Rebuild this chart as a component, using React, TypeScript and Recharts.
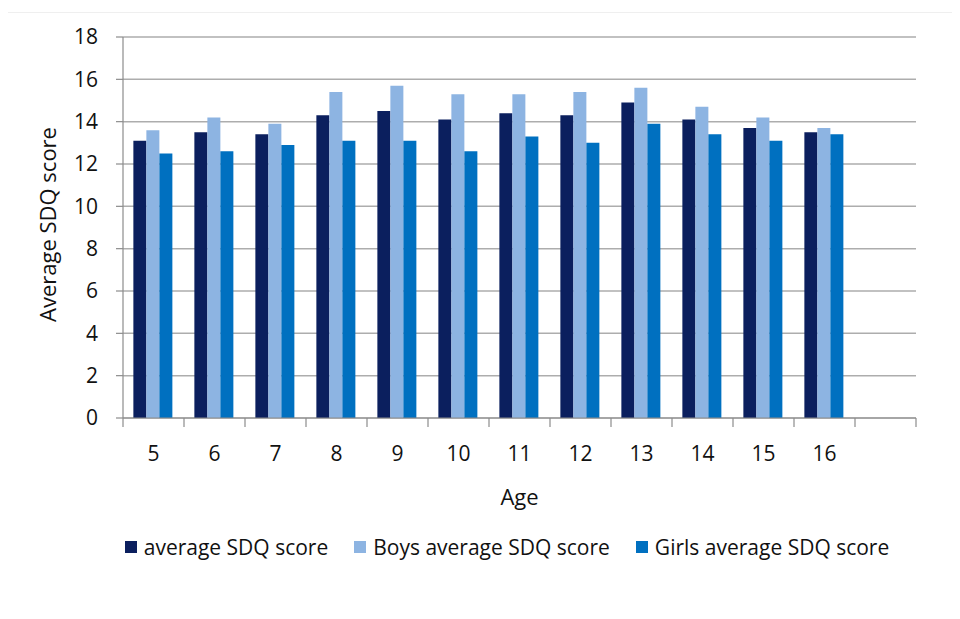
import React from 'react';
import { BarChart, Bar, XAxis, YAxis, CartesianGrid, Legend, Label } from 'recharts';

const ages = ['5', '6', '7', '8', '9', '10', '11', '12', '13', '14', '15', '16', ''];
const averageScore = [13.1, 13.5, 13.4, 14.3, 14.5, 14.1, 14.4, 14.3, 14.9, 14.1, 13.7, 13.5, null];
const boysScore = [13.6, 14.2, 13.9, 15.4, 15.7, 15.3, 15.3, 15.4, 15.6, 14.7, 14.2, 13.7, null];
const girlsScore = [12.5, 12.6, 12.9, 13.1, 13.1, 12.6, 13.3, 13.0, 13.9, 13.4, 13.1, 13.4, null];
const yTicks = [0, 2, 4, 6, 8, 10, 12, 14, 16, 18];

const seriesNames = ['average SDQ score', 'Boys average SDQ score', 'Girls average SDQ score'];
const colors = ['#0B1F5E', '#8DB4E2', '#0070C0'];

const data = ages.map((age, i) => ({
  age,
  avg: averageScore[i],
  boys: boysScore[i],
  girls: girlsScore[i],
}));

const W = 960;
const H = 619;
const LEFT = 123;
const RIGHT_MARGIN = 44;
const BAND = (W - LEFT - RIGHT_MARGIN) / ages.length;
const FONT = '"Open Sans", sans-serif';
const TEXT = '#111111';
const AXIS = '#8C8C8C';

const XTick = (props: any) => {
  const { x, y, payload, index } = props;
  const half = BAND / 2;
  return (
    <g>
      <line x1={x - half} x2={x - half} y1={y} y2={y + 9} stroke={AXIS} strokeWidth={1.2} />
      {index === ages.length - 1 && (
        <line x1={x + half} x2={x + half} y1={y} y2={y + 9} stroke={AXIS} strokeWidth={1.2} />
      )}
      <text x={x} y={y + 35} textAnchor="middle" dominantBaseline="central" fontFamily={FONT} fontSize={21} fill={TEXT}>
        {payload.value}
      </text>
    </g>
  );
};

const LegendContent = (props: any) => {
  const items = [...(props.payload || [])].sort(
    (a: any, b: any) => seriesNames.indexOf(a.value) - seriesNames.indexOf(b.value)
  );
  return (
    <div style={{ display: 'flex', justifyContent: 'center', alignItems: 'center', fontFamily: FONT, fontSize: 21, color: TEXT }}>
      {items.map((p: any, i: number) => (
        <div key={i} style={{ display: 'flex', alignItems: 'center', marginRight: i < 2 ? 26 : 0 }}>
          <span style={{ display: 'inline-block', width: 12, height: 12, background: p.color, marginRight: 7 }} />
          <span>{p.value}</span>
        </div>
      ))}
    </div>
  );
};

export default function App() {
  return (
    <div style={{ margin: -8, width: W, height: H, position: 'relative', background: '#fff' }}>
      <div style={{ position: 'absolute', left: 4, top: 12, right: -2, bottom: 3, border: '1px solid #EFEFEF' }} />
      <BarChart
        width={W}
        height={H}
        data={data}
        margin={{ top: 37, right: RIGHT_MARGIN, left: 0, bottom: 141 }}
        barCategoryGap="17%"
        barGap={0}
      >
        <CartesianGrid vertical={false} stroke="#ADADAD" strokeWidth={1.5} />
        <XAxis
          dataKey="age"
          interval={0}
          height={60}
          tickLine={false}
          tickSize={0}
          tickMargin={0}
          stroke={AXIS}
          strokeWidth={1.2}
          tick={<XTick />}
        >
          <Label
            content={(p: any) => {
              const vb = p.viewBox;
              return (
                <text x={vb.x + vb.width / 2} y={vb.y + 78} textAnchor="middle" dominantBaseline="central" fontFamily={FONT} fontSize={22} fill={TEXT}>
                  Age
                </text>
              );
            }}
          />
        </XAxis>
        <YAxis
          width={LEFT}
          domain={[0, 18]}
          ticks={yTicks}
          interval={0}
          tickSize={7}
          tickMargin={18}
          stroke={AXIS}
          strokeWidth={1.2}
          tick={{ fontFamily: FONT, fontSize: 21, fill: TEXT }}
        >
          <Label
            content={(p: any) => {
              const vb = p.viewBox;
              const cx = vb.x + 47;
              const cy = vb.y + vb.height / 2 - 3;
              return (
                <text x={cx} y={cy} transform={`rotate(-90 ${cx} ${cy})`} textAnchor="middle" dominantBaseline="central" fontFamily={FONT} fontSize={22} fill={TEXT}>
                  Average SDQ score
                </text>
              );
            }}
          />
        </YAxis>
        <Legend
          layout="horizontal"
          verticalAlign="middle"
          align="center"
          content={<LegendContent />}
          wrapperStyle={{ position: 'absolute', top: 533, left: 27, width: W, height: 28 }}
        />
        <Bar dataKey="avg" name={seriesNames[0]} fill={colors[0]} isAnimationActive={false} />
        <Bar dataKey="boys" name={seriesNames[1]} fill={colors[1]} isAnimationActive={false} />
        <Bar dataKey="girls" name={seriesNames[2]} fill={colors[2]} isAnimationActive={false} />
      </BarChart>
    </div>
  );
}
